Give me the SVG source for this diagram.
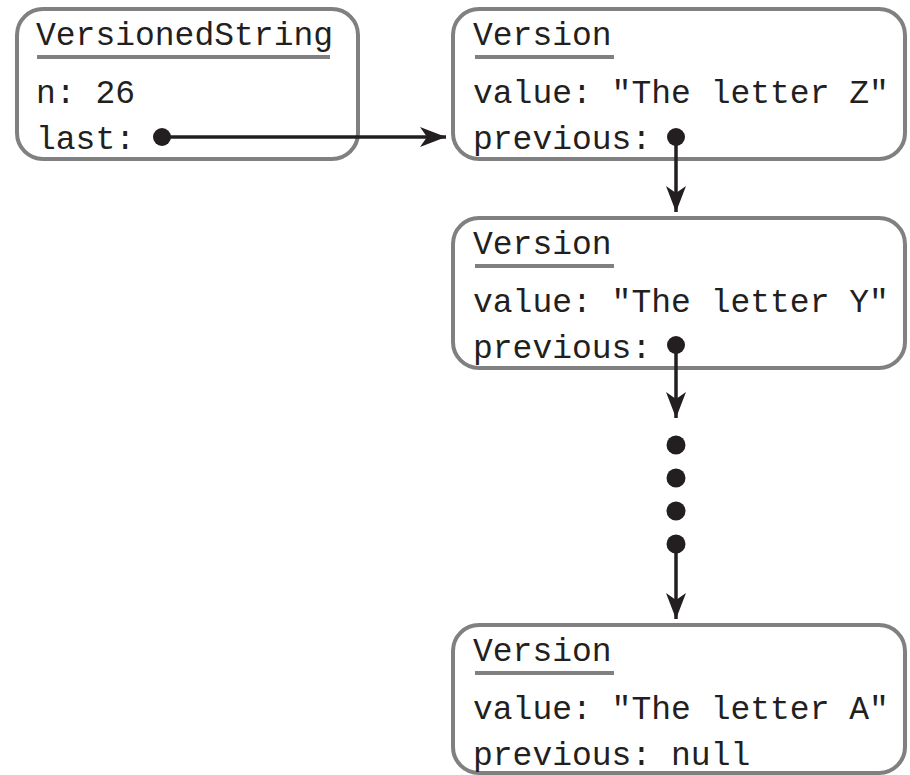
<svg xmlns="http://www.w3.org/2000/svg" width="910" height="775" viewBox="0 0 910 775">
<style>
.box{fill:#fff;stroke:#808080;stroke-width:4}
.ul{stroke:#808080;stroke-width:4}
.t{font-family:"Liberation Mono","DejaVu Sans Mono",monospace;font-size:33px;fill:#231f20}
.c{stroke:#231f20;stroke-width:3.5;fill:none}
.d{fill:#231f20}
</style>
<defs>
<marker id="ah" viewBox="-26 -11 27 22" refX="0" refY="0" markerWidth="27" markerHeight="22" markerUnits="userSpaceOnUse" orient="auto">
<path d="M0,0 L-26,-10 L-19,0 L-26,10 Z" fill="#231f20"/>
</marker>
</defs>
<rect width="910" height="775" fill="#fff"/>
<g id="versionedString">
<rect class="box" x="17" y="9" width="341" height="150" rx="26"/>
<text class="t" x="36" y="45">VersionedString</text>
<line class="ul" x1="37" y1="57" x2="330" y2="57"/>
<text class="t" x="36" y="103">n: 26</text>
<text class="t" x="36" y="149">last:</text>
</g>
<g id="versionZ">
<rect class="box" x="453" y="9" width="452" height="150" rx="26"/>
<text class="t" x="473" y="45">Version</text>
<line class="ul" x1="475" y1="57" x2="614" y2="57"/>
<text class="t" x="473" y="103">value: "The letter Z"</text>
<text class="t" x="473" y="149">previous:</text>
</g>
<g id="versionY">
<rect class="box" x="453" y="218" width="452" height="150" rx="26"/>
<text class="t" x="473" y="254">Version</text>
<line class="ul" x1="475" y1="266" x2="614" y2="266"/>
<text class="t" x="473" y="312">value: "The letter Y"</text>
<text class="t" x="473" y="358">previous:</text>
</g>
<g id="versionA">
<rect class="box" x="453" y="625" width="452" height="148" rx="26"/>
<text class="t" x="473" y="661">Version</text>
<line class="ul" x1="475" y1="673" x2="614" y2="673"/>
<text class="t" x="473" y="719">value: "The letter A"</text>
<text class="t" x="473" y="765">previous: null</text>
</g>
<g id="connectors">
<line class="c" x1="162" y1="137" x2="446" y2="137" marker-end="url(#ah)"/>
<line class="c" x1="676" y1="137" x2="676" y2="212" marker-end="url(#ah)"/>
<line class="c" x1="676" y1="345" x2="676" y2="418" marker-end="url(#ah)"/>
<line class="c" x1="676" y1="543" x2="676" y2="619" marker-end="url(#ah)"/>
<circle class="d" cx="162" cy="137" r="9"/>
<circle class="d" cx="676" cy="137" r="9"/>
<circle class="d" cx="676" cy="345" r="9"/>
<circle class="d" cx="676" cy="445" r="9.5"/>
<circle class="d" cx="676" cy="478" r="9.5"/>
<circle class="d" cx="676" cy="511" r="9.5"/>
<circle class="d" cx="676" cy="544" r="9.5"/>
</g>
</svg>
